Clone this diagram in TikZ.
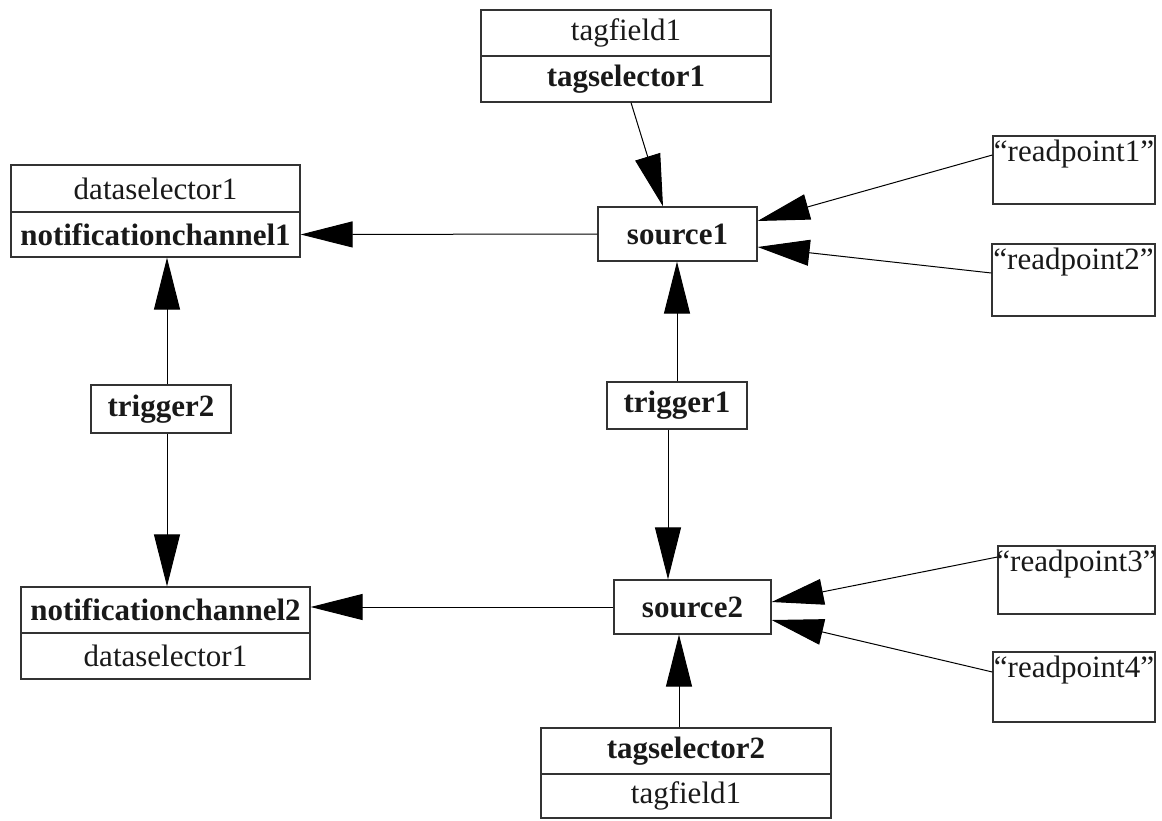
\documentclass[tikz,border=0pt]{standalone}
\usepackage{fontspec}
\setmainfont{Liberation Serif}
\usetikzlibrary{arrows.meta}

\tikzset{
  box/.style={draw=black!80, line width=1.2pt, rectangle, inner sep=0pt,
    font=\fontsize{31}{37}\selectfont, text=black!90},
  boldbox/.style={box, font=\fontsize{31}{37}\selectfont\bfseries},
  rpbox/.style={draw=black!80, line width=1.2pt, rectangle, inner sep=0pt},
  rplabel/.style={anchor=north, inner sep=0pt, yshift=-4pt,
    font=\fontsize{31}{37}\selectfont, text=black!90},
  conn/.style={line width=1pt, -{Triangle[length=52pt,width=26pt]}},
}

\begin{document}
\begin{tikzpicture}[x=1pt,y=-1pt]
\useasboundingbox (0,0) rectangle (1162,820);

% tag selector 1 (two compartments)
\node[box, minimum width=290pt, minimum height=46pt] (tf1) at (626,33) {tagfield1};
\node[boldbox, minimum width=290pt, minimum height=46pt] (ts1) at (626,79) {tagselector1};

% notification channel 1 (two compartments)
\node[box, minimum width=289pt, minimum height=47pt] (ds1) at (155.5,188.5) {dataselector1};
\node[boldbox, minimum width=289pt, minimum height=45pt] (nc1) at (155.5,234.5) {notificationchannel1};

% sources
\node[boldbox, minimum width=159pt, minimum height=54pt] (src1) at (677.5,234) {source1};
\node[boldbox, minimum width=157pt, minimum height=54pt] (src2) at (692.5,607) {source2};

% read points
\node[rpbox, minimum width=162pt, minimum height=68pt,
  label={[rplabel]north:“readpoint1”}] (rp1) at (1074,170) {};
\node[rpbox, minimum width=163pt, minimum height=72pt,
  label={[rplabel]north:“readpoint2”}] (rp2) at (1073.5,280) {};
\node[rpbox, minimum width=157pt, minimum height=68pt,
  label={[rplabel]north:“readpoint3”}] (rp3) at (1076.5,580) {};
\node[rpbox, minimum width=162pt, minimum height=70pt,
  label={[rplabel]north:“readpoint4”}] (rp4) at (1074,687) {};

% triggers
\node[boldbox, minimum width=140pt, minimum height=48pt] (tr2) at (161,409) {trigger2};
\node[boldbox, minimum width=140pt, minimum height=47pt] (tr1) at (677,405.5) {trigger1};

% notification channel 2 (two compartments)
\node[boldbox, minimum width=289pt, minimum height=46pt] (nc2) at (165.5,610) {notificationchannel2};
\node[box, minimum width=289pt, minimum height=46pt] (ds2) at (165.5,656) {dataselector1};

% tag selector 2 (two compartments)
\node[boldbox, minimum width=290pt, minimum height=46pt] (ts2) at (686,751) {tagselector2};
\node[box, minimum width=290pt, minimum height=44pt] (tf2) at (686,796) {tagfield1};

% connectors
\draw[conn] ([xshift=5pt]ts1.south) -- ([xshift=-14.5pt]src1.north);
\draw[conn] (src1.west) -- (nc1.east);
\draw[conn] ([yshift=15pt]rp1.west) -- ([yshift=13pt]src1.east);
\draw[conn] ([yshift=7pt]rp2.west) -- ([yshift=-13pt]src1.east);
\draw[conn] (tr1.north) -- (tr1.north |- src1.south);
\draw[conn] ([xshift=-9pt]tr1.south) -- ([xshift=-9pt]tr1.south |- src2.north);
\draw[conn] ([xshift=-7pt]ts2.north) -- ([xshift=-7pt]ts2.north |- src2.south);
\draw[conn] (src2.west) -- (src2.west -| nc2.east);
\draw[conn] ([xshift=6pt]tr2.north) -- ([xshift=6pt]tr2.north |- nc1.south);
\draw[conn] ([xshift=6pt]tr2.south) -- ([xshift=6pt]tr2.south |- nc2.north);
\draw[conn] ([yshift=23pt]rp3.west) -- ([yshift=5pt]src2.east);
\draw[conn] ([yshift=15pt]rp4.west) -- ([yshift=-13pt]src2.east);
\end{tikzpicture}
\end{document}
